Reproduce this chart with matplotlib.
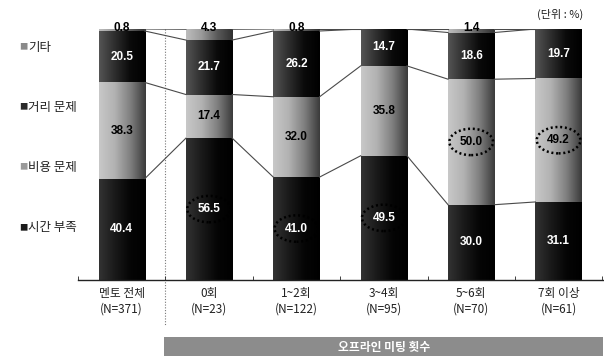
import numpy as np
import matplotlib
matplotlib.use("Agg")
import matplotlib.pyplot as plt
from matplotlib.colors import LinearSegmentedColormap
from matplotlib.patches import Ellipse, Rectangle

plt.rcParams['font.family'] = ['Noto Sans CJK KR', 'DejaVu Sans']

# ---- data -------------------------------------------------------------
groups = ["멘토 전체", "0회", "1~2회", "3~4회", "5~6회", "7회 이상"]
group_n = ["(N=371)", "(N=23)", "(N=122)", "(N=95)", "(N=70)", "(N=61)"]
series = ["시간 부족", "비용 문제", "거리 문제", "기타"]
time_short = [40.4, 56.5, 41.0, 49.5, 30.0, 31.1]
cost_issue = [38.3, 17.4, 32.0, 35.8, 50.0, 49.2]
distance_issue = [20.5, 21.7, 26.2, 14.7, 18.6, 19.7]
other = [0.8, 4.3, 0.8, 0.0, 1.4, 0.0]
highlight = {"시간 부족": [1, 2, 3], "비용 문제": [4, 5]}
unit_label = "(단위 : %)"
group_title = "오프라인 미팅 횟수"

values = [time_short, cost_issue, distance_issue, other]

# horizontal shading of each series (left -> right)
shades = {
    "시간 부족": ["#333333", "#1a1a1a", "#050505", "#000000"],
    "비용 문제": ["#c8c8c8", "#b2b2b2", "#808080", "#3a3a3a"],
    "거리 문제": ["#555555", "#2e2e2e", "#0a0a0a", "#000000"],
    "기타": ["#bdbdbd", "#9a9a9a", "#5a5a5a", "#303030"],
}
legend_sq = {"시간 부족": "#1a1a1a", "비용 문제": "#9a9a9a",
             "거리 문제": "#2a2a2a", "기타": "#8a8a8a"}
text_col = {"시간 부족": "white", "비용 문제": "black",
            "거리 문제": "white", "기타": "black"}
num_font = ["Liberation Sans", "DejaVu Sans"]

W, H = 604, 356
fig = plt.figure(figsize=(W / 100, H / 100), dpi=100)
ax = fig.add_axes([78 / W, 76 / H, 526 / W, 251 / H])
ax.set_xlim(-0.5, 5.52)
ax.set_ylim(0, 100)

x = np.arange(len(groups))
width = 0.53
grad = np.linspace(0, 1, 256).reshape(1, -1)

bottom = np.zeros(len(groups))
tops = []
for name, vals in zip(series, values):
    vals = np.array(vals)
    bars = ax.bar(x, vals, width, bottom=bottom, color="none",
                  edgecolor="none", zorder=2)
    cmap = LinearSegmentedColormap.from_list(name, shades[name])
    for b in bars:
        if b.get_height() <= 0:
            continue
        x0, y0 = b.get_x(), b.get_y()
        ax.imshow(grad, cmap=cmap, aspect="auto", zorder=2,
                  extent=[x0, x0 + b.get_width(), y0, y0 + b.get_height()],
                  interpolation="bilinear")
    # value labels
    for i, (v, b0) in enumerate(zip(vals, bottom)):
        if v <= 0:
            continue
        if v < 5:
            ax.text(x[i], 100.4, f"{v:.1f}", ha="center", va="center",
                    fontsize=8.5, fontweight="bold", color="black", zorder=5,
                    family=num_font)
        else:
            yc = b0 + v / 2
            ax.text(x[i], yc, f"{v:.1f}", ha="center", va="center",
                    fontsize=8.5, fontweight="bold", color=text_col[name],
                    zorder=5, family=num_font)
            if i in highlight.get(name, []):
                ax.add_patch(Ellipse((x[i], yc), 0.5, 10.5, fill=False,
                                     ec="black", lw=1.8, ls=(0, (0.8, 1.1)),
                                     zorder=4))
    bottom = bottom + vals
    tops.append(bottom.copy())

# connector lines between neighbouring bars
for level in tops:
    for i in range(len(groups) - 1):
        ax.plot([x[i] + width / 2, x[i + 1] - width / 2],
                [level[i], level[i + 1]], color="#4a4a4a", lw=0.8, zorder=3)

# axes styling
for s in ["top", "right", "left"]:
    ax.spines[s].set_visible(False)
ax.spines["bottom"].set_color("#222222")
ax.spines["bottom"].set_linewidth(1.0)
ax.set_yticks([])
ax.set_xticks(x)
ax.set_xticklabels([f"{g}\n{n}" for g, n in zip(groups, group_n)],
                   fontsize=8.5, color="#222222", linespacing=1.25)
ax.tick_params(axis="x", which="major", length=0, pad=5)
ax.set_xticks(np.arange(-0.5, 6.0, 1.0), minor=True)
ax.tick_params(axis="x", which="minor", direction="in", length=3,
               color="#222222")

# dotted divider after the total column
ax.plot([0.5, 0.5], [100, -18], color="#777777", lw=0.8, ls=(0, (1, 1.5)),
        clip_on=False, zorder=1)

# legend-style series labels on the left
legend_y = {"기타": 47, "거리 문제": 107, "비용 문제": 167, "시간 부족": 228}
for name in series:
    yy = 1 - legend_y[name] / H
    fig.text(19 / W, yy, "■", fontsize=6, color=legend_sq[name],
             ha="left", va="center")
    fig.text(28 / W, yy, name, fontsize=9, color="#222222",
             ha="left", va="center")

fig.text(560 / W, 1 - 14 / H, unit_label, fontsize=8, color="#222222",
         ha="center", va="center")

# group title band
band = Rectangle((164 / W, 0), (603 - 164) / W, 19 / H,
                 transform=fig.transFigure, facecolor="#8c8c8c",
                 edgecolor="none")
fig.patches.append(band)
fig.text(384 / W, 9 / H, group_title, fontsize=8.5, color="white",
         fontweight="bold", ha="center", va="center")

fig.savefig("out.png", dpi=100)
